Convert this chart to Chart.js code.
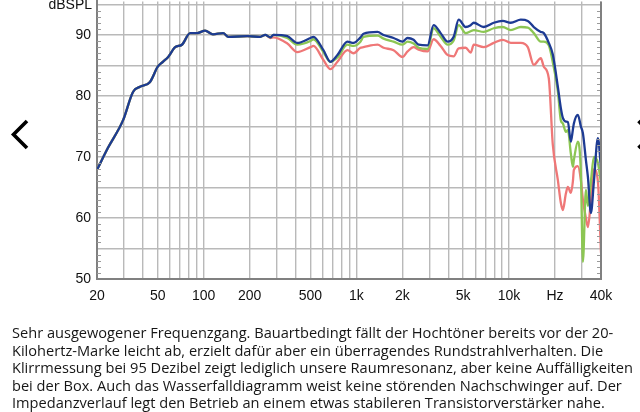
<!DOCTYPE html>
<html>
<head>
<meta charset="utf-8">
<script src="https://cdn.jsdelivr.net/npm/chart.js@4.4.1/dist/chart.umd.min.js"></script>
<style>
  body { margin: 0; width: 640px; height: 412px; overflow: hidden; background: #fff; position: relative; }
  #wrap { position: absolute; left: 0; top: -13px; width: 640px; height: 323px; }
  #txt { position: absolute; left: 12px; top: 324px; font-family: 'Open Sans', sans-serif; font-size: 14.6px; line-height: 17.6px; white-space: nowrap; color: #161616; }
  svg { position: absolute; left: 0; top: 0; }
</style>
</head>
<body>
<div id="wrap"><canvas id="grafico"></canvas></div>
<svg width="640" height="412">
  <polyline points="27,121 13.5,134.5 27,148" fill="none" stroke="#000" stroke-width="3.6" />
  <polyline points="638.5,121 652,134.5 638.5,148" fill="none" stroke="#000" stroke-width="3.6" />
</svg>
<div id="txt">Sehr ausgewogener Frequenzgang. Bauartbedingt fällt der Hochtöner bereits vor der 20-<br>Kilohertz-Marke leicht ab, erzielt dafür aber ein überragendes Rundstrahlverhalten. Die<br>Klirrmessung bei 95 Dezibel zeigt lediglich unsere Raumresonanz, aber keine Auffälligkeiten<br>bei der Box. Auch das Wasserfalldiagramm weist keine störenden Nachschwinger auf. Der<br>Impedanzverlauf legt den Betrieb an einem etwas stabileren Transistorverstärker nahe.</div>
<script>
const frecuencias = [20, 23.6, 29.6, 34.5, 38.3, 44.5, 50, 54, 58.5, 65, 72, 81.5, 90.6, 102, 115, 134, 145, 193, 235, 253,
  273, 286, 353, 410, 500, 523, 608, 676, 751, 874, 957, 1063, 1113, 1375, 1506, 1752, 2006, 2164, 2369, 2555,
  2926, 3204, 3562, 3961, 4336, 4676, 5197, 5605, 5867, 6820, 7932, 9090, 10260, 11930, 13260, 14520, 16140, 16880, 18200, 19340,
  20870, 21830, 22500, 23550, 24270, 25400, 26180, 26570, 28220, 29530, 30440, 31860, 32840, 34360, 35940, 38170, 40000];

// Achse 0°
const azul = [67.9, 71.5, 76, 80.7, 81.5, 82.3, 84.8, 85.6, 86.4, 88, 88.4, 90.3, 90.3, 90.7, 90.1, 90.3, 89.7, 89.8, 89.7, 90,
  89.6, 90, 89.8, 88.7, 89.5, 89.7, 87.5, 85.6, 86.7, 88.9, 88.7, 89.6, 90.2, 90.5, 90, 89.5, 88.9, 89.5, 89.2, 88.4,
  88.3, 91.6, 90.3, 88.9, 89.7, 92.5, 91.3, 91.6, 92, 91.3, 92, 92.3, 92, 92.5, 92.3, 91.3, 90.5, 90.3, 88.7, 86.8,
  81.5, 78, 76.4, 75.8, 75.7, 72.5, 74.5, 75.5, 76.9, 75, 73.9, 69.5, 66.7, 60.8, 66, 73.1, 68.2];

const verde = [67.9, 71.5, 76, 80.7, 81.5, 82.3, 84.8, 85.6, 86.4, 88, 88.4, 90.3, 90.3, 90.7, 90.1, 90.3, 89.7, 89.8, 89.7, 90,
  89.6, 90, 89.5, 88.4, 89, 89.3, 87.2, 85.6, 86.3, 88.4, 88.2, 88.9, 89.7, 89.9, 89.4, 88.9, 88.4, 88.9, 88.6, 87.9,
  87.7, 91.1, 89.7, 88.4, 89.1, 91.6, 90.3, 90.6, 90.8, 90.5, 91.1, 91.3, 90.8, 91.3, 91.2, 90.3, 88.9, 88.9, 88.3, 85.5,
  80.7, 76, 75.5, 74.1, 74.4, 70.5, 68.4, 69.5, 72.5, 67.4, 52.8, 64.6, 62, 66, 70, 69, 65.7];

const rojo = [67.9, 71.5, 76, 80.7, 81.5, 82.3, 84.8, 85.6, 86.4, 88, 88.4, 90.3, 90.3, 90.7, 90.1, 90.3, 89.7, 89.8, 89.7, 90,
  89.5, 89.6, 88.6, 87.2, 88, 88.2, 85.9, 84.4, 85.6, 87.5, 87, 87.9, 88, 88.4, 87.9, 87.5, 86.4, 87.3, 88, 87.6,
  87.3, 89.3, 88.2, 86.7, 86.5, 87.8, 87.9, 87.1, 88.4, 88, 88.7, 89.2, 88.7, 88.7, 88, 85.1, 86.2, 84.8, 82.9, 72,
  66.2, 62.5, 61.3, 64, 65.1, 64.1, 66, 67.9, 68.5, 66.2, 63, 60, 58.5, 63, 68, 66, 54.3];

const ticksX = [20, 30, 40, 50, 60, 70, 80, 90, 100, 200, 300, 400, 500, 600, 700, 800, 900,
  1000, 2000, 3000, 4000, 5000, 6000, 7000, 8000, 9000, 10000, 20000, 30000, 40000];
const etiquetasX = { 20: '20', 50: '50', 100: '100', 200: '200', 500: '500', 1000: '1k', 2000: '2k',
  5000: '5k', 10000: '10k', 20000: 'Hz', 40000: '40k' };
const ticksY = [50, 55, 60, 65, 70, 75, 80, 85, 90, 95];
const etiquetasY = [50, 60, 70, 80, 90];
const menoresY = [51, 52, 53, 54, 56, 57, 58, 59, 61, 62, 63, 64, 66, 67, 68, 69, 71, 72, 73, 74,
  76, 77, 78, 79, 81, 82, 83, 84, 86, 87, 88, 89, 91, 92, 93, 94];

const puntos = arr => arr.map((v, i) => ({ x: frecuencias[i], y: v }));

const extras = {
  id: 'extras',
  afterDraw(chart) {
    const { ctx, chartArea: a, scales: { y } } = chart;
    ctx.save();
    ctx.strokeStyle = '#9a9a9a';
    ctx.lineWidth = 1;
    menoresY.forEach(v => {
      const py = Math.round(y.getPixelForValue(v)) + 0.5;
      ctx.beginPath();
      ctx.moveTo(a.left, py); ctx.lineTo(a.left + 4, py);
      ctx.moveTo(a.right - 4, py); ctx.lineTo(a.right, py);
      ctx.stroke();
    });
    ctx.strokeStyle = '#808080';
    ctx.lineWidth = 2;
    ctx.beginPath();
    ctx.moveTo(a.right, a.top); ctx.lineTo(a.right, a.bottom + 1);
    ctx.stroke();
    ctx.fillStyle = '#111';
    ctx.font = '14px "Liberation Sans", Arial, sans-serif';
    ctx.textAlign = 'right';
    ctx.fillText('dBSPL', 92, 22);
    ctx.restore();
  }
};

const linea = (data, color) => ({
  data: puntos(data),
  borderColor: color,
  borderWidth: 2.3,
  pointRadius: 0,
  showLine: true,
  fill: false,
  cubicInterpolationMode: 'monotone'
});

// el primer dataset queda arriba
new Chart(document.getElementById('grafico').getContext('2d'), {
  type: 'scatter',
  data: {
    datasets: [
      linea(azul, '#1d3b93'),
      linea(verde, '#8cc653'),
      linea(rojo, '#ef7777')
    ]
  },
  options: {
    responsive: true,
    maintainAspectRatio: false,
    animation: false,
    layout: { padding: { right: 39, top: 0, left: 0, bottom: 0 } },
    plugins: { legend: { display: false }, tooltip: { enabled: false } },
    scales: {
      x: {
        type: 'logarithmic',
        min: 20,
        max: 40000,
        afterBuildTicks: s => { s.ticks = ticksX.map(v => ({ value: v })); },
        afterFit: s => { s.height = 31; },
        grid: { color: '#b9b9b9', lineWidth: 1.4, drawTicks: false },
        border: { color: '#808080', width: 2 },
        ticks: {
          autoSkip: false,
          maxRotation: 0,
          padding: 9,
          color: '#111',
          font: { family: '"Liberation Sans", Arial, sans-serif', size: 14 },
          callback: v => etiquetasX[v] ?? ''
        }
      },
      y: {
        min: 50,
        max: 95.5,
        afterBuildTicks: s => { s.ticks = ticksY.map(v => ({ value: v })); },
        afterFit: s => { s.width = 97; },
        grid: { color: '#b9b9b9', lineWidth: 1.4, drawTicks: false },
        border: { color: '#808080', width: 2 },
        ticks: {
          autoSkip: false,
          padding: 6,
          color: '#111',
          font: { family: '"Liberation Sans", Arial, sans-serif', size: 14 },
          callback: v => etiquetasY.includes(v) ? v : ''
        }
      }
    }
  },
  plugins: [extras]
});
</script>
</body>
</html>
